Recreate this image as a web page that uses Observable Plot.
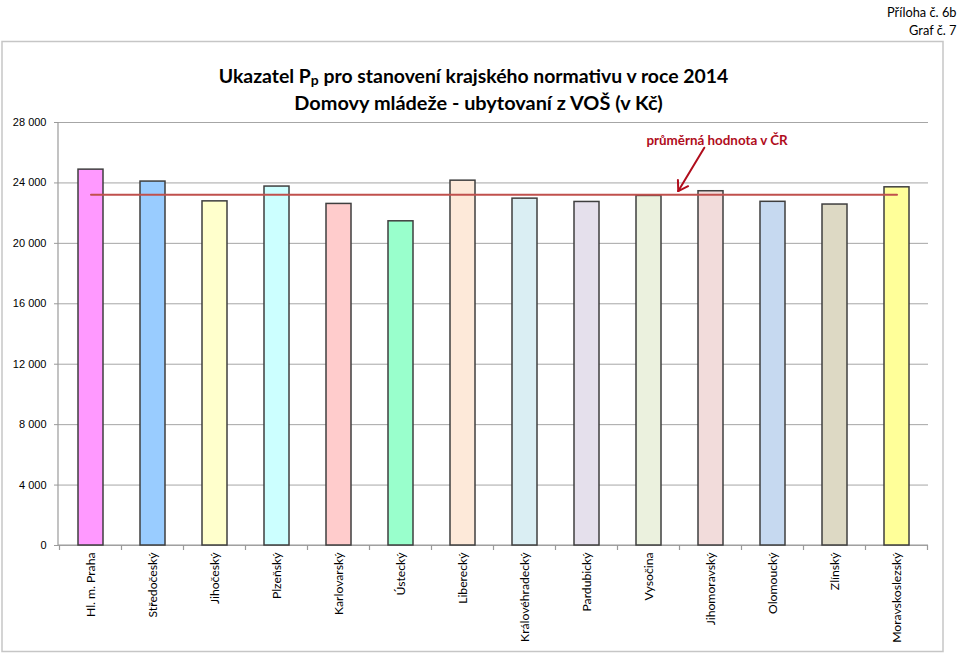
<!DOCTYPE html>
<html>
<head>
<meta charset="utf-8">
<script src="https://cdn.jsdelivr.net/npm/d3@7"></script>
<script src="https://cdn.jsdelivr.net/npm/@observablehq/plot@0.6"></script>
<style>
  html, body { margin: 0; padding: 0; background: #fff; }
  #chart { width: 959px; height: 653px; }
</style>
</head>
<body>
<div id="chart"></div>
<script>
// ---------- data ----------
const regions = ["Hl. m. Praha", "Středočeský", "Jihočeský", "Plzeňský", "Karlovarský", "Ústecký", "Liberecký",
  "Královéhradecký", "Pardubický", "Vysočina", "Jihomoravský", "Olomoucký", "Zlínský", "Moravskoslezský"];
const values = [24880, 24090, 22780, 23760, 22610, 21460, 24150, 22960, 22740, 23140, 23450, 22750, 22570, 23710];
const barColors = ["#ff99ff", "#99ccff", "#ffffcc", "#ccffff", "#ffcccc", "#99ffcc", "#fde9d9",
  "#daeef3", "#e5e0ec", "#ebf1de", "#f2dcdb", "#c6d9f0", "#ddd9c4", "#ffff99"];
const average = 23210;
const yTicks = [0, 4000, 8000, 12000, 16000, 20000, 24000, 28000];
const titleLines = ["Ukazatel Pp pro stanovení krajského normativu v roce 2014", "Domovy mládeže - ubytovaní z VOŠ (v Kč)"];
const annexLines = ["Příloha č. 6b", "Graf č. 7"];
const avgNote = [{label: "průměrná hodnota v ČR", region: "Jihomoravský", value: 26800}];
// arrow: from near the label down to the average line (band offsets in fractions of a band step)
const avgArrow = [{region: "Jihomoravský", shift1: -0.1, y1: 26300, shift2: -0.52, y2: 23430}];

const table = regions.map((r, i) => ({region: r, value: values[i], color: barColors[i]}));

// ---------- styling ----------
const W = 959, H = 653;
const M = {top: 122, right: 31, bottom: 108, left: 58};
const gridColor = "#a6a6a6";
const axisColor = "#9a9a9a";
const fmt = d => d3.format(",")(d).replace(/,/g, " ");

function decor(index, scales, vals, dims) {
  const x = scales.x, y = scales.y;
  const n = regions.length;
  const step = x.step ? x.step() : (dims.width - dims.marginLeft - dims.marginRight) / n;
  const bw = x.bandwidth ? x.bandwidth() : 0;
  const g = d3.create("svg:g");
  g.append("rect").attr("x", 2).attr("y", 41.5).attr("width", 941).attr("height", 610)
    .attr("fill", "none").attr("stroke", "#c6c6c6").attr("stroke-width", 1.5);
  const x0 = dims.marginLeft, x1 = dims.width - dims.marginRight;
  const yb = y(0), yt = y(yTicks[yTicks.length - 1]);
  g.append("line").attr("x1", x0).attr("x2", x0).attr("y1", yt).attr("y2", yb)
    .attr("stroke", axisColor).attr("stroke-width", 1.2);
  g.append("line").attr("x1", x0).attr("x2", x1).attr("y1", yb).attr("y2", yb)
    .attr("stroke", axisColor).attr("stroke-width", 1.2);
  const bounds = regions.map(r => x(r) + bw / 2 - step / 2);
  bounds.push(x(regions[n - 1]) + bw / 2 + step / 2);
  for (const b of bounds) {
    g.append("line").attr("x1", b).attr("x2", b).attr("y1", yb).attr("y2", yb + 5)
      .attr("stroke", axisColor).attr("stroke-width", 1.2);
  }
  return g.node();
}

function arrowMark(index, scales, vals, dims) {
  const x = scales.x, y = scales.y;
  const step = x.step ? x.step() : 62;
  const bw = x.bandwidth ? x.bandwidth() : 0;
  const g = d3.create("svg:g").attr("stroke", "#b00d1c").attr("stroke-width", 2).attr("fill", "none")
    .attr("stroke-linecap", "round");
  for (const a of avgArrow) {
    const c = x(a.region) + bw / 2;
    const X1 = c + a.shift1 * step, Y1 = y(a.y1);
    const X2 = c + a.shift2 * step, Y2 = y(a.y2);
    g.append("line").attr("x1", X1).attr("y1", Y1).attr("x2", X2).attr("y2", Y2);
    const ang = Math.atan2(Y2 - Y1, X2 - X1);
    const L = 11, spread = Math.PI / 5.5;
    for (const s of [-1, 1]) {
      const a2 = ang + Math.PI + s * spread;
      g.append("line").attr("x1", X2).attr("y1", Y2)
        .attr("x2", X2 + L * Math.cos(a2)).attr("y2", Y2 + L * Math.sin(a2));
    }
  }
  return g.node();
}

const chart = Plot.plot({
  width: W,
  height: H,
  marginTop: M.top,
  marginRight: M.right,
  marginBottom: M.bottom,
  marginLeft: M.left,
  style: {fontFamily: "Lato, 'Open Sans', sans-serif", background: "#fff", overflow: "visible"},
  x: {domain: regions, paddingInner: 0.6, paddingOuter: 0.3, align: 0.5, label: null},
  y: {domain: [0, 28000], label: null},
  color: {type: "identity"},
  marks: [
    Plot.gridY(yTicks, {stroke: gridColor, strokeOpacity: 1, strokeWidth: 1}),
    decor,
    Plot.axisY(yTicks, {tickSize: 4, tickPadding: 8, tickFormat: fmt, stroke: axisColor, fill: "#000",
      fontSize: 11, fontFamily: "'Liberation Sans', Arial, sans-serif", label: null}),
    Plot.axisX({tickSize: 0, tickPadding: 7, tickRotate: -90, fill: "#000",
      fontSize: 12.2, fontFamily: "Lato, sans-serif", label: null}),
    Plot.barY(table, {x: "region", y: "value", fill: "color", stroke: "#3f3f3f", strokeWidth: 1.5}),
    Plot.lineY(regions, {x: d => d, y: () => average, stroke: "#c0504d", strokeWidth: 2}),
    arrowMark,
    Plot.text(avgNote, {x: "region", y: "value", text: "label", dx: 6, fill: "#b00d1c",
      fontWeight: "bold", fontSize: 13.4}),
    Plot.text([titleLines[0]], {text: d => d, frameAnchor: "top", dx: -20, dy: -53,
      fontSize: 19.4, fontWeight: "bold", fill: "#000"}),
    Plot.text([titleLines[1]], {text: d => d, frameAnchor: "top", dx: -15, dy: -27,
      fontSize: 19.9, fontWeight: "bold", fill: "#000"}),
    Plot.text([annexLines[0]], {text: d => d, frameAnchor: "top-right", textAnchor: "end", dx: 28, dy: -115,
      fontSize: 12.8, fill: "#000"}),
    Plot.text([annexLines[1]], {text: d => d, frameAnchor: "top-right", textAnchor: "end", dx: 28, dy: -97,
      fontSize: 12.8, fill: "#000"})
  ]
});

document.getElementById("chart").appendChild(chart);

// render the small "p" of "Pp" as a subscript
d3.select(chart).selectAll("text").filter(function() { return this.textContent === titleLines[0]; })
  .each(function() {
    const t = d3.select(this);
    const s = titleLines[0];
    const k = s.indexOf("Pp") + 1;
    t.text(null);
    t.append("tspan").text(s.slice(0, k));
    t.append("tspan").attr("font-size", "0.72em").attr("dy", "0.1em").text(s.slice(k, k + 1));
    t.append("tspan").attr("dy", "-0.1em").text(s.slice(k + 1));
  });
</script>
</body>
</html>
